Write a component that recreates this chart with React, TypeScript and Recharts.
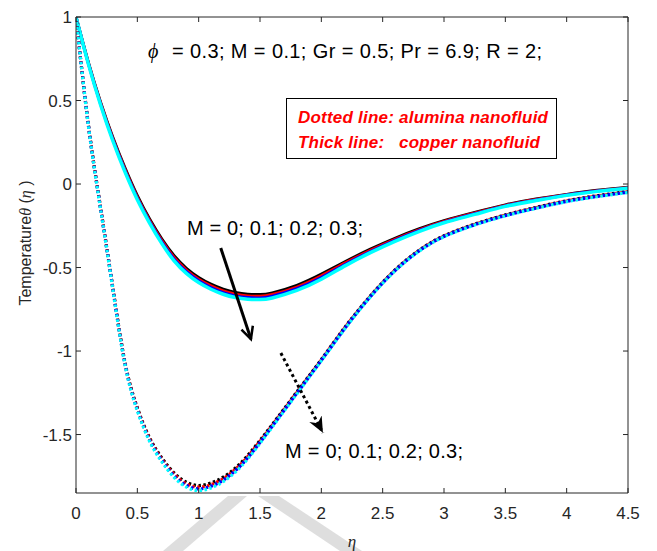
import { LineChart, Line, XAxis, YAxis, ReferenceLine } from "recharts";

// eta grid shared by all curves
const eta = [0, 0.1, 0.2, 0.3, 0.4, 0.5, 0.6, 0.7, 0.8, 0.9, 1.0, 1.1, 1.2, 1.3, 1.4, 1.5, 1.6, 1.8, 2.0, 2.2, 2.4, 2.6, 2.8, 3.0, 3.25, 3.5, 3.75, 4.0, 4.25, 4.5];

// thick lines: copper nanofluid, M = 0; 0.1; 0.2; 0.3
const copperM0 = [1, 0.73, 0.49, 0.28, 0.095, -0.07, -0.21, -0.33, -0.43, -0.505, -0.56, -0.6, -0.63, -0.65, -0.66, -0.662, -0.652, -0.607, -0.54, -0.463, -0.39, -0.325, -0.268, -0.22, -0.17, -0.125, -0.09, -0.062, -0.038, -0.02];
const copperM1 = [1, 0.727, 0.485, 0.273, 0.087, -0.078, -0.218, -0.339, -0.44, -0.515, -0.57, -0.61, -0.64, -0.66, -0.67, -0.672, -0.662, -0.617, -0.55, -0.471, -0.397, -0.331, -0.273, -0.224, -0.174, -0.128, -0.093, -0.064, -0.04, -0.022];
const copperM2 = [1, 0.724, 0.48, 0.266, 0.079, -0.086, -0.226, -0.348, -0.45, -0.525, -0.58, -0.62, -0.65, -0.67, -0.68, -0.682, -0.672, -0.627, -0.56, -0.479, -0.404, -0.337, -0.278, -0.228, -0.178, -0.131, -0.096, -0.066, -0.042, -0.024];
const copperM3 = [1, 0.721, 0.475, 0.259, 0.071, -0.094, -0.234, -0.357, -0.46, -0.535, -0.59, -0.63, -0.66, -0.68, -0.69, -0.692, -0.682, -0.637, -0.57, -0.487, -0.411, -0.343, -0.283, -0.232, -0.182, -0.134, -0.099, -0.068, -0.044, -0.026];

// dotted lines: alumina nanofluid, M = 0; 0.1; 0.2; 0.3
const aluminaM0 = [1, 0.36, -0.14, -0.62, -1.07, -1.34, -1.52, -1.64, -1.73, -1.785, -1.805, -1.79, -1.755, -1.7, -1.625, -1.535, -1.44, -1.245, -1.05, -0.85, -0.67, -0.515, -0.395, -0.31, -0.24, -0.185, -0.14, -0.1, -0.07, -0.045];
const aluminaM1 = [1, 0.358, -0.143, -0.623, -1.075, -1.346, -1.527, -1.648, -1.739, -1.795, -1.815, -1.8, -1.764, -1.708, -1.632, -1.541, -1.445, -1.249, -1.053, -0.853, -0.672, -0.517, -0.397, -0.312, -0.242, -0.187, -0.142, -0.102, -0.072, -0.047];
const aluminaM2 = [1, 0.356, -0.146, -0.626, -1.08, -1.352, -1.534, -1.656, -1.748, -1.805, -1.825, -1.81, -1.773, -1.716, -1.639, -1.547, -1.45, -1.253, -1.056, -0.856, -0.674, -0.519, -0.399, -0.314, -0.244, -0.189, -0.144, -0.104, -0.074, -0.049];
const aluminaM3 = [1, 0.354, -0.149, -0.629, -1.085, -1.358, -1.541, -1.664, -1.757, -1.815, -1.835, -1.82, -1.782, -1.724, -1.646, -1.553, -1.455, -1.257, -1.059, -0.859, -0.676, -0.521, -0.401, -0.316, -0.246, -0.191, -0.146, -0.106, -0.076, -0.051];

const xTicks = [0, 0.5, 1, 1.5, 2, 2.5, 3, 3.5, 4, 4.5];
const yTicks = [-1.5, -1, -0.5, 0, 0.5, 1];

// arrow annotations in data units
const solidArrow = [{ x: 1.18, y: -0.383 }, { x: 1.426, y: -0.928 }];
const dottedArrow = [{ x: 1.67, y: -1.012 }, { x: 2.013, y: -1.49 }];

const table = eta.map((e, i) => ({
  eta: e,
  c0: copperM0[i], c1: copperM1[i], c2: copperM2[i], c3: copperM3[i],
  a0: aluminaM0[i], a1: aluminaM1[i], a2: aluminaM2[i], a3: aluminaM3[i],
}));

const colors = ["#000000", "#ff0000", "#0000ff", "#00ffff"];
const dashOffsets = [0.6, 0.4, 0.2, 0];
const axisColor = "#262626";
const sans = "'Liberation Sans', Arial, sans-serif";
const serif = "'Liberation Serif', 'Times New Roman', serif";

const tickStyle = { fontSize: 17, fill: axisColor, fontFamily: sans };

export default function App() {
  return (
    <div style={{ position: "absolute", left: 0, top: 0, width: 657, height: 551, background: "#fff" }}>
      {/* faint watermark strokes from the source page */}
      <svg width={657} height={551} style={{ position: "absolute", left: 0, top: 0 }}>
        <polygon points="163,551 183,551 247,496 228,496" fill="#dedede" />
        <polygon points="258,496 279,496 362,551 340,551" fill="#dedede" />
      </svg>

      <div style={{ position: "absolute", left: 0, top: 0 }}>
        <LineChart width={657} height={551} data={table} margin={{ top: 16, right: 28, bottom: 0, left: 0 }}>
          <XAxis dataKey="eta" type="number" domain={[0, 4.5]} ticks={xTicks} allowDataOverflow
            height={58} tickSize={-5} tickMargin={19} stroke={axisColor} tick={tickStyle} />
          <XAxis xAxisId="top" dataKey="eta" orientation="top" type="number" domain={[0, 4.5]} ticks={xTicks} allowDataOverflow
            height={1} tickSize={-5} tickFormatter={() => ""} stroke={axisColor} />
          <YAxis type="number" domain={[-1.85, 1]} ticks={yTicks} allowDataOverflow
            width={76} tickSize={-5} tickMargin={9} stroke={axisColor} tick={tickStyle} />
          <YAxis yAxisId="right" orientation="right" type="number" domain={[-1.85, 1]} ticks={yTicks} allowDataOverflow
            width={1} tickSize={-5} tickFormatter={() => ""} stroke={axisColor} />

          {/* invisible series so the top/right box axes get drawn */}
          <Line xAxisId="top" yAxisId="right" dataKey="c0" stroke="none" dot={false} activeDot={false}
            isAnimationActive={false} legendType="none" />

          {["c0", "c1", "c2", "c3"].map((k, i) => (
            <Line key={k} dataKey={k} type="natural" stroke={colors[i]} strokeWidth={i === 3 ? 3.5 : 3}
              dot={false} activeDot={false} isAnimationActive={false} />
          ))}
          {["a0", "a1", "a2", "a3"].map((k, i) => (
            <Line key={k} dataKey={k} type="natural" stroke={colors[i]} strokeWidth={3.2}
              strokeDasharray="2.5 2.5" strokeDashoffset={dashOffsets[i]}
              dot={false} activeDot={false} isAnimationActive={false} />
          ))}

          <ReferenceLine segment={solidArrow} ifOverflow="visible"
            shape={(p: any) => (
              <line x1={p.x1} y1={p.y1} x2={p.x2} y2={p.y2} stroke="#000" strokeWidth={3} markerEnd="url(#headSolid)" />
            )} />
          <ReferenceLine segment={dottedArrow} ifOverflow="visible"
            shape={(p: any) => (
              <line x1={p.x1} y1={p.y1} x2={p.x2} y2={p.y2} stroke="#000" strokeWidth={3} strokeDasharray="3 3"
                markerEnd="url(#headDotted)" />
            )} />
        </LineChart>
      </div>

      <svg width={657} height={551} style={{ position: "absolute", left: 0, top: 0, pointerEvents: "none" }}>
        <defs>
          <marker id="headSolid" markerUnits="userSpaceOnUse" markerWidth={16} markerHeight={16} refX={13} refY={8} orient="auto">
            <path d="M1,2 L13,8 L1,14" fill="none" stroke="#000" strokeWidth={2.5} />
          </marker>
          <marker id="headDotted" markerUnits="userSpaceOnUse" markerWidth={18} markerHeight={16} refX={16} refY={8} orient="auto">
            <path d="M0,1 L16,8 L0,15 L5,8 Z" fill="#000" />
          </marker>
        </defs>

        <text x={148} y={58} fontFamily={serif} fontStyle="italic" fontSize={20} fill="#000">ϕ</text>
        <text x={172} y={58} fontFamily={sans} fontSize={20} fill="#000" textLength={370} lengthAdjust="spacing">
          = 0.3; M = 0.1; Gr = 0.5; Pr = 6.9; R = 2;
        </text>

        <rect x={286.5} y={98.5} width={270} height={60} fill="none" stroke="#000" strokeWidth={1} />
        <text x={298} y={123} fontFamily={sans} fontSize={17} fontWeight="bold" fontStyle="italic" fill="#ff0000"
          textLength={250} lengthAdjust="spacing">Dotted line: alumina nanofluid</text>
        <text x={298} y={148} fontFamily={sans} fontSize={17} fontWeight="bold" fontStyle="italic" fill="#ff0000"
          style={{ whiteSpace: "pre" }} textLength={242} lengthAdjust="spacing">Thick line:   copper nanofluid</text>

        <text x={187} y={235} fontFamily={sans} fontSize={20} fill="#000" textLength={176} lengthAdjust="spacing">M = 0; 0.1; 0.2; 0.3;</text>
        <text x={285} y={458} fontFamily={sans} fontSize={20} fill="#000" textLength={178} lengthAdjust="spacing">M = 0; 0.1; 0.2; 0.3;</text>

        <text transform="translate(31,243) rotate(-90)" textAnchor="middle" fontFamily={sans} fontSize={16} fill={axisColor}
          style={{ whiteSpace: "pre" }}>
          Temperature<tspan fontFamily={serif} fontStyle="italic">θ</tspan> (<tspan fontFamily={serif} fontStyle="italic">η</tspan> )
        </text>
        <text x={352} y={547} textAnchor="middle" fontFamily={serif} fontStyle="italic" fontSize={17} fill={axisColor}>η</text>
      </svg>
    </div>
  );
}
